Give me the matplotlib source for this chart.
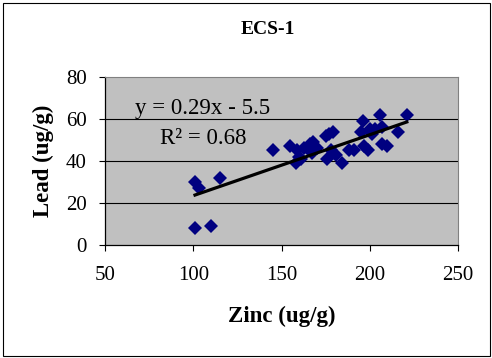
import matplotlib

matplotlib.use("Agg")
import matplotlib.pyplot as plt
from matplotlib.patches import Rectangle
import numpy as np

# ECS-1 sediment samples: zinc vs lead, both in ug/g
ZINC = [101, 103, 115, 101, 110, 145, 155, 159, 158, 161, 163, 166, 167, 168,
        160, 170, 175, 177, 179, 176, 178, 181, 184, 188, 191, 195, 196, 197,
        199, 201, 203, 206, 207, 207, 210, 216, 221, 200]
LEAD = [30, 27, 32, 8, 9, 45, 47, 45, 39, 41, 46, 48, 44, 49,
        42, 46, 52, 53, 54, 41, 45, 43, 39, 45, 45, 54, 59, 47,
        45, 53, 55, 62, 56, 48, 47, 54, 62, 55]

# linear trend as reported on the chart
SLOPE = 0.29
INTERCEPT = -5.5
R2 = 0.68

XTICKS = [50, 100, 150, 200, 250]
YTICKS = [0, 20, 40, 60, 80]

plt.rcParams["font.family"] = ["Liberation Serif", "DejaVu Serif"]

fig = plt.figure(figsize=(4.92, 3.58), dpi=100)
W, H = 492, 358
ax = fig.add_axes([105 / W, 1 - 245 / H, (458 - 105) / W, (245 - 77) / H])

ax.set_facecolor("#c0c0c0")
ax.set_xlim(50, 250)
ax.set_ylim(0, 80)
ax.set_xticks(XTICKS)
ax.set_yticks(YTICKS)
ax.tick_params(labelsize=15, direction="out", length=4, width=0.8, color="black")
ax.tick_params(axis="y", pad=9)
ax.tick_params(axis="x", pad=11)
for y in YTICKS[1:-1]:
    ax.axhline(y, color="black", linewidth=0.8, zorder=1)
for side in ("top", "right"):
    ax.spines[side].set_color("#808080")
for side in ("left", "bottom"):
    ax.spines[side].set_color("black")
    ax.spines[side].set_linewidth(0.9)

ax.plot(ZINC, LEAD, linestyle="none", marker="D", markersize=6.8,
        color="#000080", markeredgewidth=0, zorder=3)

xfit = np.array([min(ZINC), max(ZINC)])
ax.plot(xfit, SLOPE * xfit + INTERCEPT, color="black", linewidth=2.3, zorder=4)

ax.text(67, 62.5, f"y = {SLOPE}x - {abs(INTERCEPT)}", fontsize=16.5, zorder=5)
ax.text(81, 48, f"R\u00b2 = {R2}", fontsize=16.5, zorder=5)

ax.set_xlabel("Zinc (ug/g)", fontsize=16.5, fontweight="bold", labelpad=15)
ax.set_ylabel("Lead (ug/g)", fontsize=16.5, fontweight="bold", labelpad=9)

fig.text(268 / W, 1 - 30 / H, "ECS-1", fontsize=14, fontweight="bold",
         ha="center", va="center")

fig.patches.append(Rectangle((3 / W, 2 / H), 487 / W, 353 / H, fill=False,
                             edgecolor="black", linewidth=0.8,
                             transform=fig.transFigure, figure=fig))

fig.savefig("out.png", dpi=100)
